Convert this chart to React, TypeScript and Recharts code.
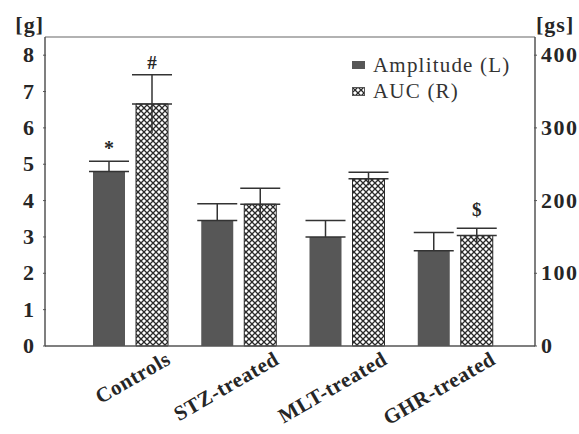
import { Bar, BarChart, ErrorBar, LabelList, ReferenceLine, XAxis, YAxis } from 'recharts';

const categories = ['Controls', 'STZ-treated', 'MLT-treated', 'GHR-treated'];
const amplitude = [4.8, 3.45, 3.0, 2.62];
const amplitudeErr = [0.28, 0.46, 0.45, 0.5];
const auc = [333, 195, 230, 152];
const aucErr = [40, 22, 9, 10];
const amplitudeMarks = ['*', '', '', ''];
const aucMarks = ['#', '', '', '$'];
const leftTicks = [0, 1, 2, 3, 4, 5, 6, 7, 8];
const rightTicks = [0, 100, 200, 300, 400];

// upward whisker carries the cap, downward one is a bare line (no cap in the original)
const data = categories.map((name, i) => ({
  name,
  amplitude: amplitude[i],
  ampErr: [0, amplitudeErr[i]],
  auc: auc[i],
  aucErrUp: [0, aucErr[i]],
  aucErrDown: [aucErr[i], 0],
  ampMark: amplitudeMarks[i],
  aucMark: aucMarks[i],
}));

const FONT = '"Liberation Serif", "DejaVu Serif", serif';
const INK = '#262626';

const LeftTick = ({ x, y, payload }: any) => (
  <g>
    <line x1={x} x2={x + 3} y1={y} y2={y} stroke='#555' />
    <text x={x - 8} y={y} dy={7} textAnchor='end' fill={INK} fontFamily={FONT} fontWeight={700} fontSize={22} letterSpacing={1}>
      {payload.value}
    </text>
  </g>
);

const RightTick = ({ x, y, payload }: any) => (
  <g>
    <line x1={x} x2={x - 3} y1={y} y2={y} stroke='#555' />
    <text x={x + 4} y={y} dy={7} textAnchor='start' fill={INK} fontFamily={FONT} fontWeight={700} fontSize={22} letterSpacing={1.5}>
      {payload.value}
    </text>
  </g>
);

const CategoryTick = ({ x, y, payload }: any) => {
  const ax = x + 42;
  const ay = y + 15;
  return (
    <text
      x={ax}
      y={ay}
      textAnchor='end'
      transform={`rotate(-30, ${ax}, ${ay})`}
      fill={INK}
      fontFamily={FONT}
      fontWeight={700}
      fontSize={21}
      letterSpacing={0.6}
    >
      {payload.value}
    </text>
  );
};

// marks sit above the error-bar cap; pixel size of the error comes from the bar's own scale
const markLabel = (values: number[], errs: number[]) => (props: any) => {
  const { x, y, width, height, value, index } = props;
  if (!value) return null;
  const pxPerUnit = height / values[index];
  const top = y - errs[index] * pxPerUnit;
  const lift = value === '$' ? 12 : 6;
  return (
    <text
      x={x + width / 2}
      y={top - lift}
      textAnchor='middle'
      fill={INK}
      fontFamily={FONT}
      fontWeight={700}
      fontSize={value === '*' ? 20 : 19}
    >
      {value}
    </text>
  );
};

const Hatch = ({ id }: { id: string }) => (
  <pattern id={id} patternUnits='userSpaceOnUse' width={6} height={6}>
    <rect width={6} height={6} fill='#fff' />
    <path d='M0,0 L6,6 M6,0 L0,6' stroke='#2a2a2a' strokeWidth={1.3} />
  </pattern>
);

const LegendBox = () => (
  <div
    style={{
      position: 'absolute',
      left: 352,
      top: 52,
      fontFamily: FONT,
      fontSize: 21,
      letterSpacing: 1.2,
      color: '#333',
      lineHeight: '26px',
    }}
  >
    <div style={{ display: 'flex', alignItems: 'center' }}>
      <span style={{ display: 'inline-block', width: 13, height: 8, background: '#575757', marginRight: 8 }} />
      Amplitude (L)
    </div>
    <div style={{ display: 'flex', alignItems: 'center' }}>
      <svg width={13} height={9} style={{ marginRight: 8 }}>
        <defs>
          <Hatch id='hatchLegend' />
        </defs>
        <rect x={0.5} y={0.5} width={12} height={8} fill='url(#hatchLegend)' stroke='#555' />
      </svg>
      AUC (R)
    </div>
  </div>
);

export default function App() {
  return (
    <div style={{ position: 'absolute', left: 0, top: 0, width: 579, height: 434, background: '#fff' }}>
      <BarChart
        width={579}
        height={434}
        data={data}
        margin={{ top: 37, right: 0, bottom: 58, left: 0 }}
        barSize={32}
        barGap={11}
      >
        <defs>
          <Hatch id='hatchBar' />
        </defs>
        <XAxis
          dataKey='name'
          height={30}
          padding={{ left: 31, right: 26 }}
          tickLine={false}
          tickSize={0}
          axisLine={{ stroke: '#555', strokeWidth: 1.5 }}
          tick={<CategoryTick />}
          interval={0}
        />
        <YAxis
          yAxisId='left'
          width={45}
          domain={[0, 8.5]}
          ticks={leftTicks}
          tickLine={false}
          tickSize={0}
          axisLine={{ stroke: '#555', strokeWidth: 1.5 }}
          tick={<LeftTick />}
          label={{
            content: ({ viewBox }: any) => (
              <text x={viewBox.x + viewBox.width - 1} y={viewBox.y - 5} textAnchor='end' fill={INK} fontFamily={FONT} fontWeight={700} fontSize={22} letterSpacing={1}>
                [g]
              </text>
            ),
          }}
        />
        <YAxis
          yAxisId='right'
          orientation='right'
          width={44}
          domain={[0, 425]}
          ticks={rightTicks}
          tickLine={false}
          tickSize={0}
          axisLine={{ stroke: '#555', strokeWidth: 1.5 }}
          tick={<RightTick />}
          label={{
            content: ({ viewBox }: any) => (
              <text x={viewBox.x + 1} y={viewBox.y - 5} textAnchor='start' fill={INK} fontFamily={FONT} fontWeight={700} fontSize={22} letterSpacing={1}>
                [gs]
              </text>
            ),
          }}
        />
        <ReferenceLine yAxisId='left' y={8.5} stroke='#999' strokeWidth={1.5} />
        <Bar yAxisId='left' dataKey='amplitude' name='Amplitude (L)' fill='#575757' isAnimationActive={false}>
          <ErrorBar dataKey='ampErr' direction='y' width={20} stroke='#333' strokeWidth={1.5} />
          <LabelList dataKey='ampMark' content={markLabel(amplitude, amplitudeErr)} />
        </Bar>
        <Bar
          yAxisId='right'
          dataKey='auc'
          name='AUC (R)'
          fill='url(#hatchBar)'
          stroke='#2a2a2a'
          strokeWidth={1}
          isAnimationActive={false}
        >
          <ErrorBar dataKey='aucErrUp' direction='y' width={20} stroke='#333' strokeWidth={1.5} />
          <ErrorBar dataKey='aucErrDown' direction='y' width={0} stroke='#333' strokeWidth={1.5} />
          <LabelList dataKey='aucMark' content={markLabel(auc, aucErr)} />
        </Bar>
      </BarChart>
      <LegendBox />
    </div>
  );
}
